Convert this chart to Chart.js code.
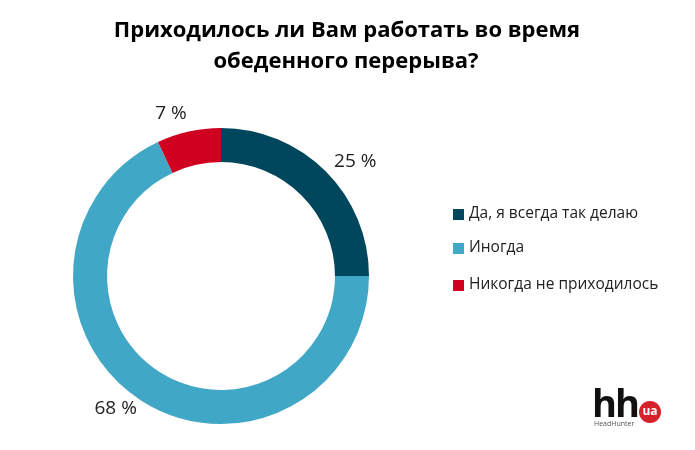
<!DOCTYPE html>
<html>
<head>
<meta charset="utf-8">
<script src="https://cdn.jsdelivr.net/npm/chart.js@4/dist/chart.umd.min.js"></script>
<style>
  html, body { margin: 0; padding: 0; background: #fff; }
  #wrap { position: relative; width: 695px; height: 450px; }
  #logo { position: absolute; left: 592px; top: 386px; width: 80px; height: 44px; font-family: 'Open Sans', sans-serif; }
  #logo .hh { position: absolute; left: 0; top: -10px; font-size: 38px; font-weight: 700; letter-spacing: -2px; color: #111; }
  #logo .ua { position: absolute; left: 47px; top: 15px; width: 22px; height: 22px; border-radius: 50%; background: #d6202a; color: #fff; font-size: 12px; font-weight: 700; text-align: center; line-height: 20px; }
  #logo .hht { position: absolute; left: 2px; top: 33px; font-size: 7px; color: #555; }
</style>
</head>
<body>
<div id="wrap">
  <canvas id="donut" width="695" height="450"></canvas>
  <div id="logo"><span class="hh">hh</span><span class="ua">ua</span><span class="hht">HeadHunter</span></div>
</div>
<script>
const titleLines = ['Приходилось ли Вам работать во время', 'обеденного перерыва?'];
const categories = ['Да, я всегда так делаю', 'Иногда', 'Никогда не приходилось'];
const values = [25, 68, 7];
const colors = ['#00465c', '#41a7c6', '#d00021'];

// title, legend and outside % labels
const extras = {
  id: 'extras',
  afterDraw(chart) {
    const ctx = chart.ctx;
    ctx.save();

    // title
    ctx.fillStyle = '#000';
    ctx.font = 'bold 22px "Open Sans", sans-serif';
    ctx.textAlign = 'center';
    ctx.textBaseline = 'middle';
    ctx.fillText(titleLines[0], 347, 31);
    ctx.fillText(titleLines[1], 346, 62);

    // legend
    ctx.font = '15.5px "Open Sans", sans-serif';
    ctx.textAlign = 'left';
    const legY = [214, 248, 285];
    categories.forEach((c, i) => {
      ctx.fillStyle = colors[i];
      ctx.fillRect(453, legY[i] - 5, 11, 11);
      ctx.fillStyle = '#222';
      ctx.fillText(c, 469, legY[i]);
    });

    // percentage labels outside the ring
    const meta = chart.getDatasetMeta(0);
    ctx.font = '19px "Open Sans", sans-serif';
    ctx.fillStyle = '#222';
    meta.data.forEach((arc, i) => {
      const p = arc.getProps(['x', 'y', 'startAngle', 'endAngle', 'outerRadius'], true);
      const mid = (p.startAngle + p.endAngle) / 2;
      const r = p.outerRadius + 9;
      const dx = Math.cos(mid), dy = Math.sin(mid);
      const x = p.x + dx * r;
      const y = p.y + dy * r;
      ctx.textAlign = Math.abs(dx) < 0.1 ? 'center' : (dx > 0 ? 'left' : 'right');
      ctx.textBaseline = dy < -0.9 ? 'bottom' : (dy > 0.9 ? 'top' : 'middle');
      ctx.fillText(values[i] + ' %', x + (dx > 0 ? 2 : 0), y - (dx > 0 ? 3 : 0));
    });
    ctx.restore();
  }
};

new Chart(document.getElementById('donut'), {
  type: 'doughnut',
  data: {
    labels: categories,
    datasets: [{
      data: values,
      backgroundColor: colors,
      borderWidth: 0
    }]
  },
  options: {
    responsive: false,
    animation: false,
    cutout: '77%',
    layout: { padding: { left: 73, top: 128, right: 326, bottom: 26 } },
    plugins: {
      legend: { display: false },
      tooltip: { enabled: false }
    }
  },
  plugins: [extras]
});
</script>
</body>
</html>
